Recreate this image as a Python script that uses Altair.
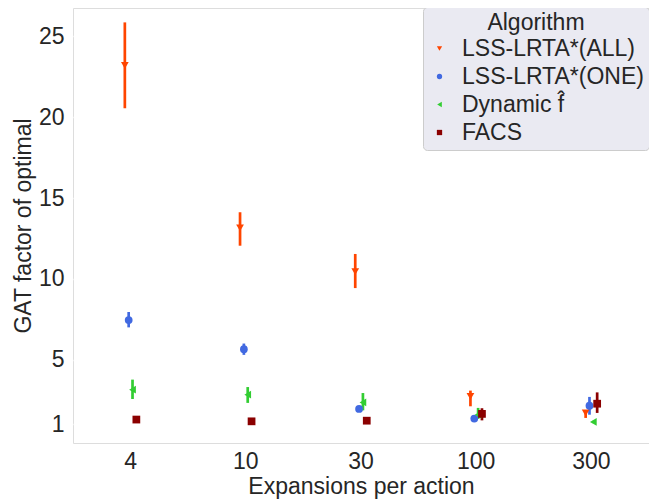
import altair as alt
import pandas as pd

cats = ["4", "10", "30", "100", "300"]
algs = ["LSS-LRTA*(ALL)", "LSS-LRTA*(ONE)", "Dynamic f\u0302", "FACS"]
colors = ["#ff4500", "#4169e1", "#32cd32", "#8b0000"]
shapes = ["triangle-down", "circle", "triangle-left", "square"]

all_mean = [23.2, 13.15, 10.45, 2.73, 1.71]
all_lo = [20.55, 12.05, 9.43, 2.12, 1.40]
all_hi = [25.86, 14.12, 11.54, 3.09, 1.87]

one_mean = [7.45, 5.65, 1.96, 1.36, 2.16]
one_lo = [7.0, 5.3, 1.85, 1.28, 1.60]
one_hi = [7.95, 6.0, 2.08, 1.45, 2.70]

dyn_mean = [3.15, 2.84, 2.36, 1.60, 1.15]
dyn_lo = [2.57, 2.33, 1.87, 1.34, 1.08]
dyn_hi = [3.77, 3.31, 2.94, 2.02, 1.22]

facs_mean = [1.30, 1.19, 1.23, 1.65, 2.28]
facs_lo = [1.22, 1.12, 1.16, 1.25, 1.71]
facs_hi = [1.38, 1.26, 1.30, 2.00, 2.98]

y_ticks = [1, 5, 10, 15, 20, 25]

series = [
    (all_mean, all_lo, all_hi),
    (one_mean, one_lo, one_hi),
    (dyn_mean, dyn_lo, dyn_hi),
    (facs_mean, facs_lo, facs_hi),
]
rows = []
for a, (m, lo, hi) in zip(algs, series):
    for c, mv, l, h in zip(cats, m, lo, hi):
        rows.append({"exp": c, "alg": a, "mean": mv, "lo": l, "hi": h})
df = pd.DataFrame(rows)

W, H = 576, 435
band = W / len(cats)
step = 0.1 * band / 3  # seaborn dodge spacing between hues

TXT = "#262626"
FONT = "Liberation Sans"
FS = 23

legend = alt.Legend(
    title="Algorithm",
    orient="none",
    legendX=350,
    legendY=-1,
    fillColor="#eaeaf2",
    strokeColor="#cccccc",
    cornerRadius=4,
    padding=5,
    titleFontSize=FS,
    titleFontWeight="normal",
    titleColor=TXT,
    titleAnchor="middle",
    titlePadding=2,
    titleLimit=0,
    labelFontSize=FS,
    labelColor=TXT,
    labelOffset=11,
    labelLimit=0,
    symbolSize=28,
    symbolStrokeWidth=0,
    rowPadding=4,
)

x = alt.X(
    "exp:N",
    sort=cats,
    scale=alt.Scale(domain=cats, paddingInner=0, paddingOuter=0),
    axis=alt.Axis(
        title="Expansions per action",
        labelAngle=0,
        labelFontSize=FS,
        labelColor=TXT,
        labelPadding=7,
        titleFontSize=FS,
        titleFontWeight="normal",
        titleColor=TXT,
        titleY=50,
        titleBaseline="alphabetic",
        ticks=False,
        domain=False,
        grid=False,
    ),
)
xoff = alt.XOffset(
    "alg:N",
    sort=algs,
    scale=alt.Scale(type="point", domain=algs, padding=0,
                    range=[band / 2 - 1.5 * step, band / 2 + 1.5 * step]),
)
y_axis = alt.Axis(
    title="GAT factor of optimal",
    values=y_ticks,
    labelFontSize=FS,
    labelColor=TXT,
    labelPadding=9,
    titleFontSize=FS,
    titleFontWeight="normal",
    titleColor=TXT,
    titleX=-43,
    titleBaseline="alphabetic",
    ticks=False,
    domain=False,
    grid=True,
    gridColor="white",
    gridWidth=1.6,
)
yscale = alt.Scale(domain=[-0.15, 26.75], nice=False, zero=False)

color = alt.Color("alg:N", sort=algs, scale=alt.Scale(domain=algs, range=colors), legend=legend)
shape = alt.Shape("alg:N", sort=algs, scale=alt.Scale(domain=algs, range=shapes), legend=legend)

base = alt.Chart(df)

rules = base.mark_rule(strokeWidth=2.7).encode(
    x=x,
    xOffset=xoff,
    y=alt.Y("lo:Q", scale=yscale, axis=y_axis),
    y2="hi:Q",
    color=color,
)

points = base.mark_point(filled=True, size=60, opacity=1).encode(
    x=x,
    xOffset=xoff,
    y=alt.Y("mean:Q", scale=yscale, axis=y_axis),
    color=color,
    shape=shape,
)

chart = (
    alt.layer(rules, points)
    .properties(
        width=W,
        height=H,
        autosize=alt.AutoSizeParams(type="none"),
        padding={"left": 65, "top": 0, "right": 0, "bottom": 57},
        background="white",
    )
    .configure_view(fill="#eaeaf2", stroke="transparent")
    .configure(font=FONT)
)

chart.save("out.html", embed_options={"renderer": "svg", "actions": False})
